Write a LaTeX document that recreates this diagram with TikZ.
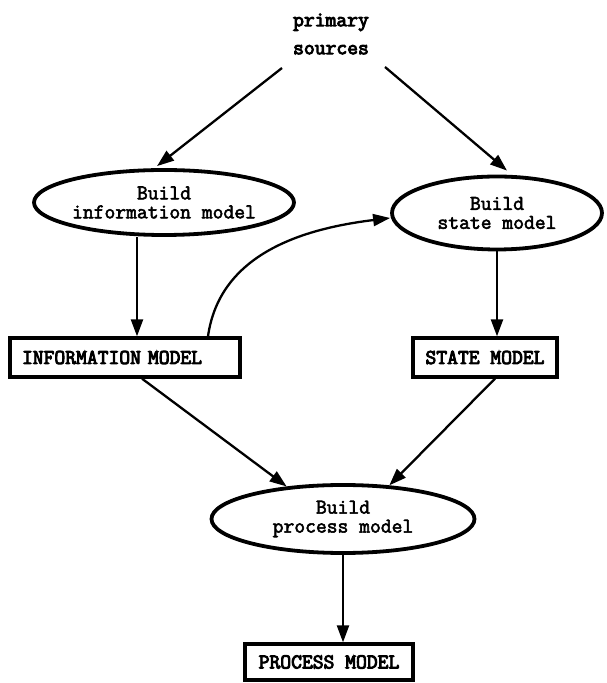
\documentclass[tikz,border=0pt]{standalone}
\usepackage{fontspec}
\newfontfamily\typewriter{Latin Modern Mono}[FakeBold=2.6]
\newfontfamily\typewriterbold{Latin Modern Mono}[FakeBold=4.4]
\usetikzlibrary{shapes.geometric,arrows.meta}
\begin{document}
\begin{tikzpicture}[x=1pt,y=1pt,
  every node/.style={font=\typewriter\fontsize{21}{19}\selectfont},
  heavy/.style={font=\typewriterbold\fontsize{21}{19}\selectfont},
  activity/.style={draw,ellipse,line width=3.8pt,inner sep=0pt,align=center},
  product/.style={draw,rectangle,line width=3.3pt,inner sep=0pt,heavy},
  flow/.style={line width=2.3pt,-{Triangle[length=17pt,width=12pt]}}]
\useasboundingbox (0,0) rectangle (607,683);

% primary sources
\node[align=center,font=\typewriterbold\fontsize{21}{28}\selectfont] (src) at (331,649) {primary\\sources};
\coordinate (s1) at (282,615);
\coordinate (s2) at (385,616);

% activities
\node[activity,minimum width=258pt,minimum height=65pt] (info) at (164,480.5) {Build\\information model};
\node[activity,minimum width=210pt,minimum height=73pt] (state) at (497,470) {Build\\state model};
\node[activity,minimum width=263pt,minimum height=68pt] (proc) at (343,164) {Build\\process model};

% products
\node[product,minimum width=230pt,minimum height=39pt,text width=206pt,align=left] (ibox) at (125,325.5) {INFORMATION MODEL};
\node[product,minimum width=144pt,minimum height=39pt] (sbox) at (485,325.5) {STATE MODEL};
\node[product,minimum width=168pt,minimum height=36pt] (pbox) at (329,21) {PROCESS MODEL};

% connectors
\draw[flow] (s1) -- ([xshift=-7pt,yshift=2pt]info.north);
\draw[flow] (s2) -- ([xshift=10pt,yshift=4pt]state.north);
\draw[flow] ([xshift=-27pt]info.south) -- ([xshift=-27pt]info.south |- ibox.north);
\draw[flow] (state.south) -- (state.south |- sbox.north);
\draw[flow] ([xshift=83pt]ibox.north) to[out=82,in=187] ([yshift=-5pt]state.west);
\draw[flow] ([xshift=17pt]ibox.south) -- (proc.150);
\draw[flow] ([xshift=10pt]sbox.south) -- (proc.36);
\draw[flow] (proc.south) -- (proc.south |- pbox.north);
\end{tikzpicture}
\end{document}
